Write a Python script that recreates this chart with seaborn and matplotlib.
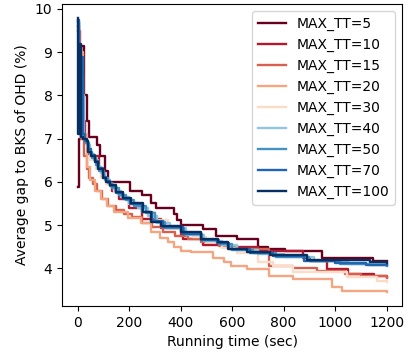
import matplotlib
matplotlib.use("Agg")
import matplotlib.pyplot as plt
import seaborn as sns
import pandas as pd

labels = ["MAX_TT=5", "MAX_TT=10", "MAX_TT=15", "MAX_TT=20", "MAX_TT=30",
          "MAX_TT=40", "MAX_TT=50", "MAX_TT=70", "MAX_TT=100"]
colors = ["#67001f", "#b2182b", "#d6604d", "#f4a582", "#fddbc7",
          "#92c5de", "#4393c3", "#2166ac", "#053061"]

t5 = [0, 4, 12, 25, 35, 46, 77, 89, 108, 120, 205, 250, 285, 305, 374, 385, 401, 486, 536, 620, 700, 740, 807, 949, 1146, 1200]
v5 = [5.88, 7.0, 9.15, 8.0, 7.4, 7.03, 6.85, 6.6, 6.25, 6.0, 5.78, 5.7, 5.52, 5.4, 5.25, 5.13, 5.01, 4.92, 4.74, 4.67, 4.5, 4.44, 4.39, 4.25, 4.16, 4.16]

t10 = [0, 10, 20, 30, 40, 54, 85, 100, 115, 135, 160, 200, 250, 324, 401, 410, 486, 583, 700, 876, 903, 969, 1050, 1150, 1200]
v10 = [9.5, 8.2, 7.4, 6.9, 6.65, 6.6, 6.3, 6.1, 5.95, 5.8, 5.6, 5.4, 5.15, 4.94, 4.78, 4.67, 4.55, 4.5, 4.4, 4.25, 4.16, 3.98, 3.86, 3.82, 3.8]

t15 = [0, 5, 15, 25, 35, 45, 60, 75, 95, 120, 150, 180, 210, 250, 290, 330, 380, 430, 480, 550, 620, 745, 837, 930, 1040, 1100, 1200]
v15 = [9.6, 7.6, 7.0, 6.6, 6.3, 6.1, 5.95, 5.8, 5.6, 5.45, 5.35, 5.25, 5.18, 5.05, 4.95, 4.85, 4.75, 4.68, 4.6, 4.52, 4.45, 4.05, 4.0, 3.93, 3.86, 3.82, 3.78]

t20 = [0, 5, 12, 23, 35, 50, 69, 93, 115, 143, 197, 247, 286, 320, 350, 374, 400, 440, 525, 567, 594, 660, 745, 837, 988, 1026, 1200]
v20 = [9.7, 7.5, 9.0, 7.1, 6.35, 6.05, 5.8, 5.6, 5.45, 5.31, 5.17, 5.06, 4.83, 4.7, 4.6, 4.5, 4.39, 4.37, 4.25, 4.14, 4.05, 3.98, 3.82, 3.75, 3.56, 3.47, 3.45]

t30 = [0, 5, 20, 35, 50, 70, 90, 110, 140, 170, 200, 250, 300, 350, 400, 450, 500, 560, 620, 700, 760, 837, 1046, 1161, 1200]
v30 = [9.7, 7.3, 7.0, 6.8, 6.5, 6.3, 6.1, 5.95, 5.8, 5.65, 5.5, 5.3, 5.12, 4.98, 4.85, 4.72, 4.6, 4.48, 4.35, 4.14, 4.05, 3.91, 3.8, 3.7, 3.68]

t40 = [0, 5, 14, 25, 38, 50, 62, 78, 92, 108, 125, 145, 170, 200, 235, 275, 310, 360, 420, 490, 560, 620, 700, 800, 920, 1050, 1200]
v40 = [9.6, 7.4, 8.0, 7.0, 6.85, 6.65, 6.5, 6.35, 6.2, 6.05, 5.92, 5.8, 5.65, 5.52, 5.4, 5.22, 5.05, 4.93, 4.78, 4.64, 4.55, 4.42, 4.34, 4.26, 4.16, 4.1, 4.07]

t50 = [0, 4, 12, 22, 33, 45, 58, 72, 85, 102, 118, 135, 160, 190, 220, 265, 300, 340, 415, 485, 550, 600, 680, 770, 900, 1020, 1130, 1200]
v50 = [9.7, 7.3, 8.5, 7.0, 6.9, 6.7, 6.55, 6.4, 6.25, 6.08, 5.98, 5.85, 5.7, 5.58, 5.45, 5.27, 5.07, 4.94, 4.8, 4.65, 4.57, 4.43, 4.35, 4.27, 4.17, 4.11, 4.08, 4.06]

t70 = [0, 4, 10, 20, 30, 40, 52, 66, 80, 98, 110, 125, 148, 175, 205, 250, 290, 330, 410, 480, 540, 590, 670, 760, 880, 1000, 1120, 1200]
v70 = [9.75, 7.2, 8.9, 7.1, 6.95, 6.75, 6.62, 6.48, 6.32, 6.12, 6.02, 5.9, 5.75, 5.6, 5.5, 5.3, 5.1, 4.95, 4.8, 4.66, 4.58, 4.45, 4.36, 4.28, 4.18, 4.12, 4.08, 4.07]

t100 = [0, 3, 8, 12, 23, 35, 42, 54, 69, 81, 100, 112, 127, 150, 178, 208, 255, 286, 324, 401, 478, 544, 583, 660, 749, 891, 1135, 1200]
v100 = [9.8, 7.1, 9.2, 7.05, 7.0, 6.95, 6.7, 6.6, 6.45, 6.3, 6.1, 6.0, 5.93, 5.77, 5.63, 5.52, 5.31, 5.08, 4.97, 4.83, 4.67, 4.6, 4.44, 4.37, 4.3, 4.2, 4.14, 4.13]

series_t = [t5, t10, t15, t20, t30, t40, t50, t70, t100]
series_v = [v5, v10, v15, v20, v30, v40, v50, v70, v100]

rows = []
for lab, ts, vs in zip(labels, series_t, series_v):
    for t, v in zip(ts, vs):
        rows.append({"time": t, "gap": v, "setting": lab})
df = pd.DataFrame(rows)

fig = plt.figure(figsize=(4.14, 3.54), dpi=100)
ax = fig.add_axes([0.150, 0.136, 0.821, 0.853])
sns.lineplot(data=df, x="time", y="gap", hue="setting", hue_order=labels,
             palette=colors, estimator=None, drawstyle="steps-post",
             linewidth=1.7, ax=ax)
handles, labs = ax.get_legend_handles_labels()
ax.legend(handles, labs, loc="upper right")
ax.set_xlabel("Running time (sec)")
ax.set_ylabel("Average gap to BKS of OHD (%)")
ax.set_xticks([0, 200, 400, 600, 800, 1000, 1200])
fig.savefig("out.png", dpi=100)
